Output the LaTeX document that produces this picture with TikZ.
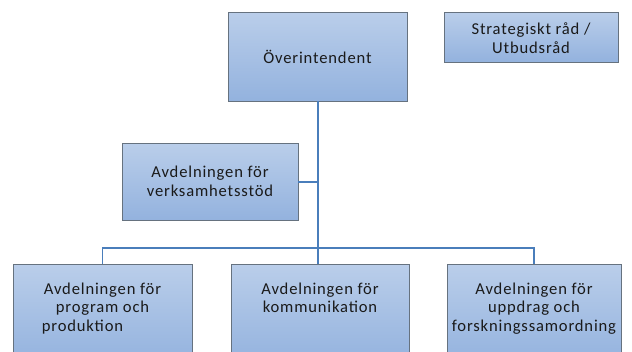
\documentclass[tikz,border=0pt]{standalone}
\usepackage{fontspec}
\setmainfont{Carlito}[LetterSpace=5]
\definecolor{boxtop}{HTML}{BACEEA}
\definecolor{boxbot}{HTML}{93B2DE}
\definecolor{boxline}{HTML}{66727F}
\definecolor{conn}{HTML}{4A7EBB}
\definecolor{txt}{HTML}{1A1A1A}
\begin{document}
\begin{tikzpicture}[x=1pt,y=-1pt,
  orgbox/.style={draw=boxline, line width=0.9pt, top color=boxtop, bottom color=boxbot, inner sep=0pt},
  lbl/.style={text=txt, font=\fontsize{16.6}{18.5}\selectfont, align=center, inner sep=0pt},
  link/.style={draw=conn, line width=1.3pt}]
\useasboundingbox (0,0) rectangle (632,351);
\clip (0,0) rectangle (632,351);
% boxes
\node[orgbox, minimum width=179pt, minimum height=89pt] (over) at (317.5,56.5) {};
\node[lbl] (overt) at (over.center) {Överintendent};
\node[orgbox, minimum width=174pt, minimum height=50pt] (strat) at (531,37) {};
\node[lbl] (stratt) at ([yshift=-1pt]strat.center) {Strategiskt råd /\\Utbudsråd};
\node[orgbox, minimum width=176pt, minimum height=77pt] (stod) at (210,181.5) {};
\node[lbl] (stodt) at (stod.center) {Avdelningen för\\verksamhetsstöd};
\node[orgbox, minimum width=179pt, minimum height=100pt] (prog) at (102.5,314) {};
\node[orgbox, minimum width=178pt, minimum height=100pt] (komm) at (320,314) {};
\node[orgbox, minimum width=174pt, minimum height=100pt] (uppd) at (534,314) {};
\node[lbl, anchor=north] (progt) at (102.5,282.5) {Avdelningen för\\program och\\produktion\hspace*{40pt}};
\node[lbl, anchor=north] (kommt) at (320,282.5) {Avdelningen för\\kommunikation};
\node[lbl, anchor=north] (uppdt) at (534,282.5) {Avdelningen för\\uppdrag och\\forskningssamordning};
% connectors
\coordinate (hub) at (318,248);
\coordinate (side) at (318,182);
\path[link] (over.south -| hub) -- (komm.north -| hub);
\path[link] (stod.east |- side) -- (side);
\path[link] (prog.north) |- (hub) -| (uppd.north);
\end{tikzpicture}
\end{document}
